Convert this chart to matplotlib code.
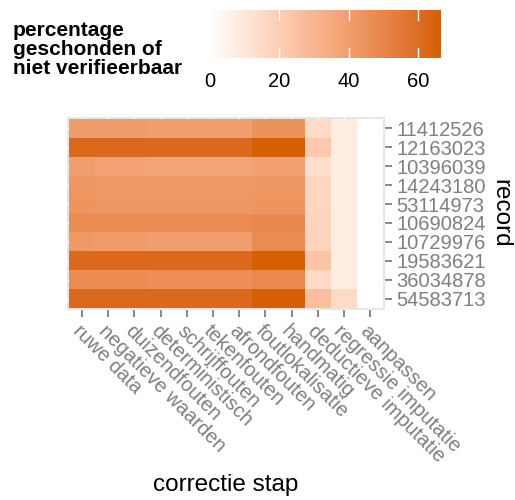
import matplotlib
matplotlib.use("Agg")
import matplotlib.pyplot as plt
import numpy as np
from matplotlib.colors import ListedColormap, to_rgb

plt.rcParams['font.family'] = ['Liberation Sans', 'DejaVu Sans']

steps = ['ruwe data', 'negatieve waarden', 'duizendfouten', 'deterministisch',
         'schrijffouten', 'tekenfouten', 'afrondfouten', 'foutlokalisatie',
         'handmatig', 'deductieve imputatie', 'regressie imputatie', 'aanpassen']
records = ['11412526', '12163023', '10396039', '14243180', '53114973',
           '10690824', '10729976', '19583621', '36034878', '54583713']

# percentage geschonden per record (rij) en correctie stap (kolom)
pct = [
    [41, 41, 41, 40, 40, 40, 40, 45, 45, 15, 8, 0],
    [62, 62, 62, 61.5, 61.5, 61.5, 61.5, 66, 66, 22, 8, 0],
    [40, 38, 38, 37, 37, 37, 37, 39, 39, 13, 8, 0],
    [43, 42, 42, 42, 42, 42, 42, 43, 43, 17, 8, 0],
    [44, 43, 43, 43, 43, 43, 43, 44, 44, 17, 8, 0],
    [48, 47.5, 47.5, 47.5, 47.5, 47.5, 47.5, 49, 49, 18, 8, 0],
    [42, 41, 41, 40, 40, 40, 40, 48, 48, 18, 8, 0],
    [62, 62, 62, 61.5, 61.5, 61.5, 61.5, 66, 66, 24, 8, 0],
    [47, 46.5, 46.5, 46, 46, 46, 46, 48.5, 48.5, 15, 8, 0],
    [62, 62, 62, 61.5, 61.5, 61.5, 61.5, 66, 66, 27, 15, 0],
]
vmax = 66.5


# white -> #D55E00 interpolated in Lab, like ggplot's gradient
def to_lab(c):
    c = np.array(c)
    lin = np.where(c <= 0.04045, c / 12.92, ((c + 0.055) / 1.055) ** 2.4)
    M = np.array([[0.4124, 0.3576, 0.1805],
                  [0.2126, 0.7152, 0.0722],
                  [0.0193, 0.1192, 0.9505]])
    xyz = M @ lin / np.array([0.95047, 1.0, 1.08883])
    f = np.where(xyz > 0.008856, np.cbrt(xyz), 7.787 * xyz + 16 / 116)
    return np.array([116 * f[1] - 16, 500 * (f[0] - f[1]), 200 * (f[1] - f[2])])


def from_lab(lab):
    fy = (lab[0] + 16) / 116
    fx = fy + lab[1] / 500
    fz = fy - lab[2] / 200
    f = np.array([fx, fy, fz])
    xyz = np.where(f ** 3 > 0.008856, f ** 3, (f - 16 / 116) / 7.787)
    xyz = xyz * np.array([0.95047, 1.0, 1.08883])
    Mi = np.array([[3.2406, -1.5372, -0.4986],
                   [-0.9689, 1.8758, 0.0415],
                   [0.0557, -0.2040, 1.0570]])
    lin = Mi @ xyz
    c = np.where(lin <= 0.0031308, 12.92 * lin, 1.055 * np.abs(lin) ** (1 / 2.4) - 0.055)
    return np.clip(c, 0, 1)


lo, hi = to_lab(to_rgb('white')), to_lab(to_rgb('#D55E00'))
cmap = ListedColormap([from_lab(lo + t * (hi - lo)) for t in np.linspace(0, 1, 256)])
grey = '#7f7f7f'

fig = plt.figure(figsize=(5.15, 5.0), dpi=100)
ax = fig.add_axes([0.130, 0.38, 0.618, 0.386])

data = np.array(pct)
nr, nc = data.shape
ax.set_facecolor('#e5e5e5')
ax.pcolormesh(np.arange(nc + 1) + 0.5, np.arange(nr + 1) + 0.5, data,
              cmap=cmap, vmin=0, vmax=vmax, zorder=3)
ax.set_xlim(0.42, nc + 0.58)
ax.set_ylim(nr + 0.58, 0.42)
ax.set_xticks(np.arange(1, nc + 1))
ax.set_yticks(np.arange(1, nr + 1))
ax.grid(color='white', linewidth=1)
ax.set_axisbelow(True)
for s in ax.spines.values():
    s.set_visible(False)

ax.yaxis.tick_right()
ax.yaxis.set_label_position('right')
ax.set_yticklabels(records, fontsize=14.5, color=grey)
ax.set_xticklabels(steps, fontsize=14.5, color=grey, rotation=-45,
                   ha='left', va='top', rotation_mode='anchor')
ax.tick_params(axis='both', length=5, width=1.3, color=grey, pad=3)
ax.set_ylabel('record', fontsize=17.5, rotation=-90, labelpad=18)
fig.text(0.439, 0.03, 'correctie stap', fontsize=17.5, ha='center', va='center')

# legend colorbar
cax = fig.add_axes([0.408, 0.884, 0.447, 0.096])
grad = np.linspace(0, vmax, 256).reshape(1, -1)
cax.imshow(grad, aspect='auto', cmap=cmap, vmin=0, vmax=vmax,
           extent=[0, vmax, 0, 1])
for v in [20, 40, 60]:
    cax.plot([v, v], [0, 0.2], color='white', lw=1)
    cax.plot([v, v], [0.8, 1], color='white', lw=1)
cax.set_xlim(0, vmax)
cax.set_ylim(0, 1)
cax.set_yticks([])
cax.set_xticks([0, 20, 40, 60])
cax.tick_params(axis='x', length=0, labelsize=14.5, pad=10)
for s in cax.spines.values():
    s.set_visible(False)

fig.text(0.025, 0.901, 'percentage\ngeschonden of\nniet verifieerbaar',
         fontsize=15, fontweight='bold', va='center', ha='left', linespacing=1.0)

fig.savefig('out.png', dpi=100)
